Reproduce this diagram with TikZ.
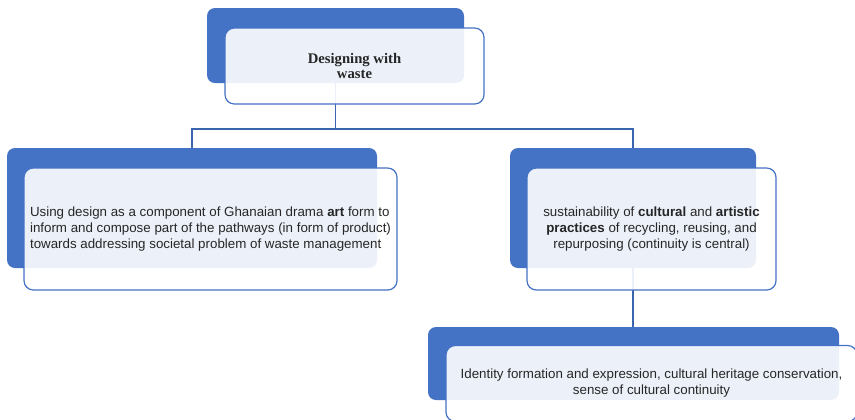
\documentclass[tikz,border=0pt]{standalone}
\usepackage{fontspec}
\setmainfont{Liberation Sans}
\newfontfamily\titlefont{Liberation Serif}
\usepackage{tikz}
\definecolor{boxblue}{HTML}{4472C4}
\definecolor{linkblue}{HTML}{3C65B0}
\definecolor{textgrey}{HTML}{262626}
\tikzset{
  backbox/.style={fill=boxblue, rounded corners=6pt, inner sep=0pt},
  frontbox/.style={draw=boxblue, line width=0.9pt, fill=white, fill opacity=0.9,
    text opacity=1, text=textgrey, rounded corners=7pt, inner sep=0pt,
    font=\fontsize{10pt}{12pt}\selectfont, align=center},
  link/.style={draw=linkblue, line width=1.4pt}
}

\begin{document}
\begin{tikzpicture}[x=0.75pt, y=-0.75pt]
  \useasboundingbox (0,0) rectangle (855,419);

  %Define nodes
  \node[backbox, minimum width=192.75pt, minimum height=56.25pt] (waste) at (335.5,45.5) {};
  \node[backbox, minimum width=277.5pt, minimum height=90pt] (design) at (192,208) {};
  \node[backbox, minimum width=184.5pt, minimum height=90pt] (practice) at (633,208) {};
  \node[backbox, minimum width=308.25pt, minimum height=54.75pt] (identity) at (633.5,363.5) {};

  % Connect the nodes
  \coordinate (bus) at (0,129);
  \draw[link] (waste.south) -- (waste.south |- bus) coordinate (fork);
  \draw[link] (fork) -| (design.north);
  \draw[link] (fork) -| (practice.north);
  \draw[link] (practice.south) -- (practice.south |- identity.north);

  % Front boxes
  \node[frontbox, minimum width=194.25pt, minimum height=57pt,
    font=\titlefont\bfseries\fontsize{11pt}{11.5pt}\selectfont] (wasteF) at (354.5,66)
    {Designing with\\waste};
  \node[frontbox, minimum width=279.75pt, minimum height=91.5pt, align=left] (designF) at (210.5,229)
    {Using design as a component of Ghanaian drama \textbf{art} form to\\
     inform and compose part of the pathways (in form of product)\\
     towards addressing societal problem of waste management};
  \node[frontbox, minimum width=186.75pt, minimum height=91.5pt] (practiceF) at (651.5,229)
    {sustainability of \textbf{cultural} and \textbf{artistic}\\
     \textbf{practices} of recycling, reusing, and\\
     repurposing (continuity is central)};
  \node[frontbox, minimum width=308.25pt, minimum height=57pt] (identityF) at (651.5,383.5)
    {Identity formation and expression, cultural heritage conservation,\\
     sense of cultural continuity};

\end{tikzpicture}
\end{document}
